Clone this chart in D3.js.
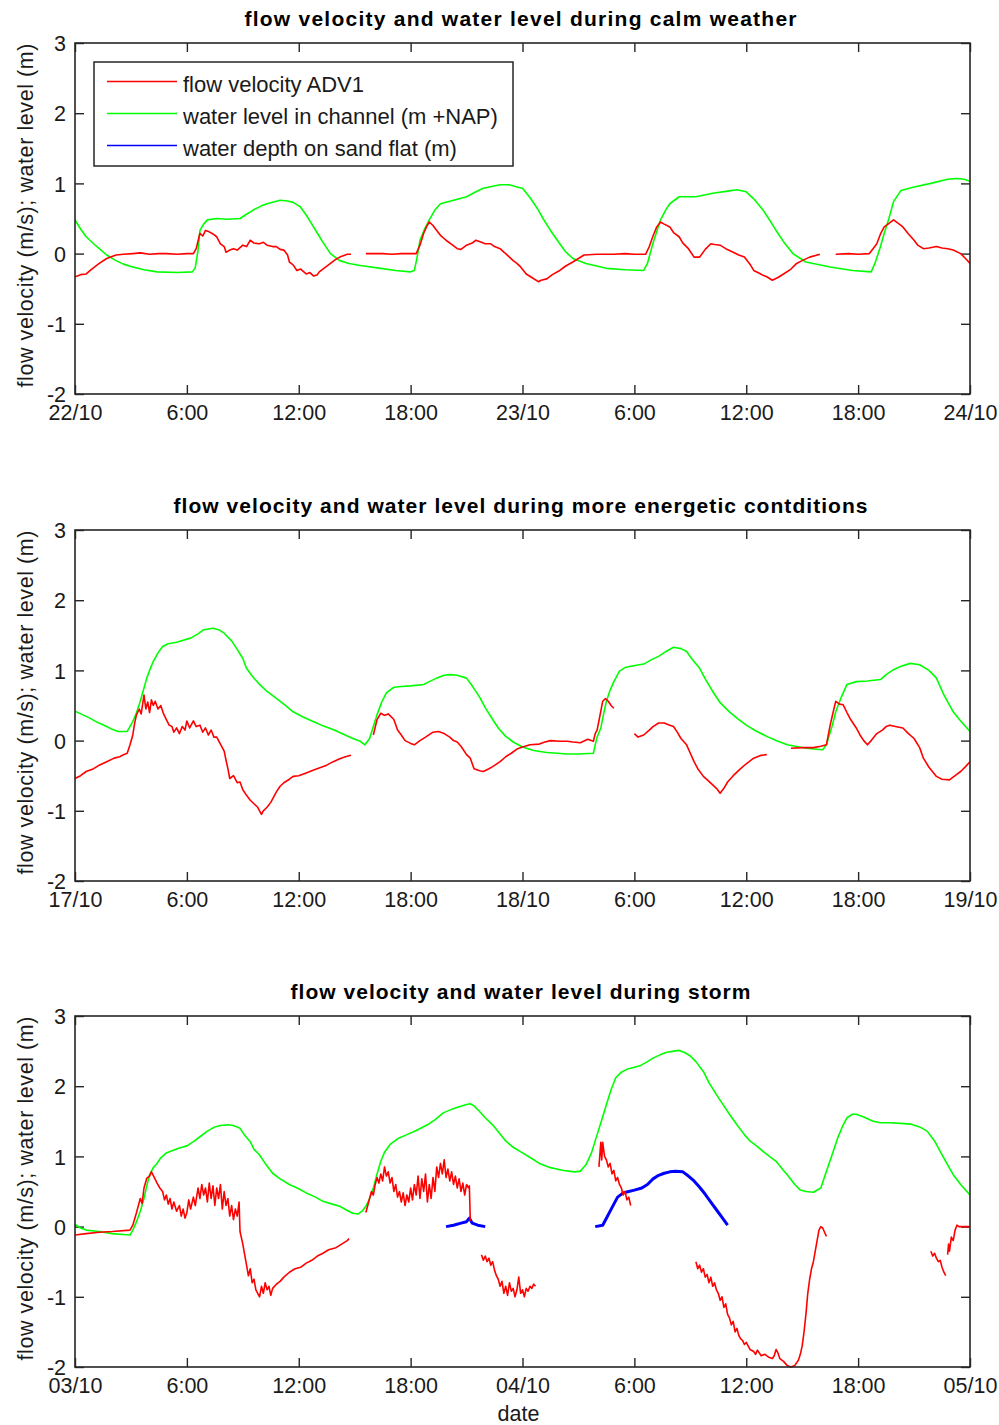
<!DOCTYPE html>
<html><head><meta charset="utf-8">
<script src="https://cdn.jsdelivr.net/npm/d3@7"></script>
<style>
body{margin:0;background:#fff}
svg{display:block}
</style>
</head><body>
<svg id="chart" width="999" height="1425"></svg>
<script>
// ---------------- data ----------------
const panelTitles = [
  "flow velocity and water level during calm weather",
  "flow velocity and water level during more energetic contditions",
  "flow velocity and water level during storm"
];
const panelStartDates = [[2007, 9, 22], [2007, 9, 17], [2007, 9, 3]];
const tickHours = [0, 6, 12, 18, 24, 30, 36, 42, 48];
const yTickValues = [-2, -1, 0, 1, 2, 3];
const seriesNames = ["flow velocity ADV1", "water level in channel (m +NAP)", "water depth on sand flat (m)"];
const yAxisLabel = "flow velocity (m/s); water level (m)";
const xAxisLabel = "date";

// [hours since start, value]; null marks a gap
const calmVelocity = [[0,-0.33],[0.3,-0.3],[0.6,-0.29],[0.9,-0.22],[1.3,-0.14],[1.7,-0.07],[2.2,-0.02],[2.6,-0.01],[3.1,0],[3.5,0.01],[4.0,-0.01],[4.5,0],[4.9,0],[5.5,-0.01],[6.0,0],[6.35,0],[6.5,0.07],[6.7,0.29],[6.85,0.25],[7.0,0.33],[7.2,0.31],[7.4,0.28],[7.6,0.24],[7.8,0.14],[8.0,0.1],[8.1,0.02],[8.3,0.05],[8.5,0.07],[8.7,0.05],[9.0,0.12],[9.2,0.1],[9.4,0.19],[9.6,0.15],[9.9,0.14],[10.1,0.16],[10.3,0.12],[10.6,0.1],[10.8,0.1],[11.0,0.06],[11.2,0.05],[11.4,-0.02],[11.5,-0.12],[11.7,-0.16],[11.9,-0.24],[12.1,-0.22],[12.4,-0.29],[12.6,-0.27],[12.8,-0.32],[13.0,-0.3],[13.1,-0.26],[13.4,-0.2],[13.7,-0.14],[14.0,-0.08],[14.2,-0.05],[14.6,-0.01],[14.8,-0.01],[14.85,null],[15.6,0],[16.5,0],[17.0,-0.01],[17.5,0],[18.3,0],[18.5,0.12],[18.7,0.29],[18.85,0.38],[19.0,0.45],[19.2,0.4],[19.4,0.33],[19.6,0.26],[19.9,0.19],[20.2,0.13],[20.5,0.07],[20.7,0.06],[21.0,0.12],[21.3,0.15],[21.5,0.19],[21.8,0.16],[22.0,0.14],[22.3,0.14],[22.5,0.1],[22.8,0.07],[23.0,0.02],[23.1,0],[23.3,-0.05],[23.5,-0.1],[23.7,-0.14],[23.9,-0.19],[24.2,-0.29],[24.5,-0.34],[24.85,-0.4],[25.0,-0.38],[25.3,-0.36],[25.6,-0.3],[26.0,-0.24],[26.3,-0.18],[26.7,-0.12],[27.0,-0.07],[27.3,-0.02],[28.0,-0.01],[28.9,-0.01],[29.5,0],[30.0,-0.01],[30.6,-0.01],[30.8,0.1],[31.0,0.25],[31.2,0.38],[31.4,0.45],[31.6,0.42],[31.9,0.38],[32.1,0.3],[32.4,0.24],[32.6,0.15],[32.9,0.07],[33.2,-0.05],[33.5,-0.05],[33.8,0.06],[34.1,0.14],[34.3,0.13],[34.6,0.12],[34.9,0.07],[35.3,0.02],[35.6,-0.02],[35.9,-0.05],[36.2,-0.15],[36.4,-0.24],[36.7,-0.28],[36.9,-0.31],[37.1,-0.33],[37.4,-0.38],[37.7,-0.34],[38.0,-0.29],[38.4,-0.22],[38.7,-0.14],[39.0,-0.1],[39.4,-0.05],[39.95,-0.01],[40.0,null],[40.8,-0.01],[41.5,0],[42.0,-0.01],[42.6,0],[42.8,0.07],[43.0,0.14],[43.2,0.28],[43.4,0.38],[43.6,0.42],[43.9,0.48],[44.1,0.44],[44.4,0.38],[44.7,0.28],[45.0,0.19],[45.2,0.12],[45.5,0.07],[45.8,0.08],[46.2,0.1],[46.5,0.08],[46.8,0.07],[47.1,0.05],[47.5,0],[47.8,-0.08],[48,-0.14]];

const calmLevel = [[0,0.48],[0.3,0.35],[0.6,0.24],[1.0,0.14],[1.3,0.07],[1.7,-0.02],[2.2,-0.1],[2.6,-0.15],[3.1,-0.19],[3.7,-0.23],[4.4,-0.26],[5.5,-0.27],[6.3,-0.26],[6.45,-0.2],[6.6,0.05],[6.7,0.33],[6.9,0.42],[7.1,0.48],[7.6,0.5],[8.2,0.49],[8.85,0.5],[9.2,0.56],[9.56,0.62],[10.0,0.68],[10.3,0.71],[10.7,0.74],[11.0,0.76],[11.4,0.75],[11.7,0.73],[12.07,0.67],[12.4,0.55],[12.7,0.42],[13.0,0.29],[13.3,0.16],[13.7,0],[14.2,-0.1],[14.7,-0.14],[15.3,-0.17],[16.4,-0.21],[17.2,-0.24],[18.0,-0.26],[18.2,-0.24],[18.35,-0.05],[18.5,0.19],[18.75,0.35],[19.0,0.48],[19.3,0.62],[19.6,0.71],[20.3,0.76],[21.0,0.81],[21.5,0.88],[21.9,0.93],[22.4,0.96],[22.8,0.98],[23.3,0.98],[23.7,0.95],[24.0,0.93],[24.4,0.8],[24.85,0.62],[25.1,0.5],[25.5,0.33],[26.0,0.14],[26.3,0.03],[26.7,-0.07],[27.4,-0.14],[28.5,-0.21],[29.5,-0.23],[30.5,-0.24],[30.7,-0.14],[31.0,0.15],[31.4,0.48],[31.7,0.63],[31.9,0.71],[32.4,0.81],[33.3,0.81],[34.2,0.86],[35.0,0.89],[35.5,0.91],[36.0,0.88],[36.4,0.78],[36.9,0.62],[37.2,0.5],[37.6,0.33],[38.0,0.17],[38.5,0],[39.2,-0.12],[40.5,-0.19],[41.7,-0.24],[42.7,-0.26],[42.9,-0.14],[43.2,0.1],[43.4,0.29],[43.65,0.5],[43.9,0.74],[44.3,0.9],[45.0,0.95],[45.9,1.0],[46.8,1.06],[47.3,1.07],[47.7,1.06],[48,1.03]];

const energeticVelocity = [[0,-0.54],[0.3,-0.5],[0.6,-0.44],[1.0,-0.4],[1.3,-0.35],[1.7,-0.3],[2.1,-0.25],[2.4,-0.23],[2.6,-0.2],[2.8,-0.18],[2.95,-0.06],[3.1,0.08],[3.2,0.25],[3.3,0.37],[3.45,0.45],[3.55,0.38],[3.7,0.65],[3.8,0.45],[3.9,0.55],[4.0,0.4],[4.1,0.58],[4.2,0.5],[4.3,0.56],[4.45,0.45],[4.6,0.5],[4.75,0.38],[4.9,0.3],[5.05,0.22],[5.2,0.2],[5.3,0.12],[5.45,0.18],[5.6,0.1],[5.75,0.2],[5.9,0.15],[6.0,0.28],[6.15,0.18],[6.35,0.28],[6.5,0.2],[6.7,0.22],[6.85,0.12],[7.0,0.18],[7.15,0.08],[7.3,0.15],[7.45,0.05],[7.6,0.05],[7.8,-0.05],[8.0,-0.15],[8.1,-0.28],[8.2,-0.4],[8.3,-0.54],[8.5,-0.5],[8.7,-0.6],[8.85,-0.59],[9.0,-0.7],[9.2,-0.78],[9.4,-0.85],[9.6,-0.9],[9.8,-0.95],[10.0,-1.05],[10.1,-1.0],[10.3,-0.95],[10.5,-0.88],[10.8,-0.73],[11.0,-0.65],[11.2,-0.6],[11.5,-0.55],[11.7,-0.51],[12.0,-0.5],[12.4,-0.46],[12.8,-0.42],[13.1,-0.39],[13.5,-0.35],[13.85,-0.3],[14.2,-0.26],[14.5,-0.23],[14.8,-0.21],[14.9,null],[16.0,0.08],[16.2,0.3],[16.4,0.39],[16.6,0.36],[16.8,0.38],[17.1,0.3],[17.3,0.15],[17.5,0.08],[17.7,0.0],[18.0,-0.04],[18.2,-0.06],[18.5,0.0],[18.8,0.05],[19.2,0.12],[19.5,0.13],[19.8,0.1],[20.1,0.05],[20.3,0.0],[20.5,-0.02],[20.7,-0.08],[21.0,-0.2],[21.2,-0.25],[21.4,-0.4],[21.7,-0.43],[21.9,-0.44],[22.2,-0.4],[22.4,-0.37],[22.8,-0.3],[23.1,-0.23],[23.4,-0.18],[23.7,-0.12],[24.0,-0.09],[24.4,-0.06],[24.9,-0.05],[25.2,-0.02],[25.5,0.0],[26.0,-0.01],[26.4,-0.01],[26.7,-0.02],[27.1,-0.03],[27.5,0.02],[27.8,-0.01],[27.9,0.1],[28.0,0.15],[28.15,0.35],[28.3,0.56],[28.45,0.6],[28.6,0.56],[28.75,0.5],[28.9,0.46],[29.0,null],[30.0,0.1],[30.2,0.05],[30.5,0.08],[30.8,0.15],[31.0,0.2],[31.3,0.25],[31.6,0.25],[31.9,0.22],[32.1,0.2],[32.3,0.12],[32.5,0.03],[32.8,-0.06],[33.0,-0.18],[33.2,-0.3],[33.4,-0.4],[33.7,-0.51],[34.0,-0.58],[34.2,-0.63],[34.4,-0.68],[34.6,-0.75],[34.8,-0.68],[35.0,-0.59],[35.3,-0.5],[35.7,-0.4],[36.0,-0.33],[36.4,-0.25],[36.8,-0.21],[37.1,-0.2],[37.2,null],[38.4,-0.11],[39.0,-0.1],[39.6,-0.1],[40.0,-0.08],[40.3,-0.06],[40.5,0.22],[40.7,0.45],[40.8,0.56],[41.0,0.52],[41.2,0.51],[41.4,0.4],[41.6,0.3],[41.9,0.18],[42.1,0.08],[42.3,0.0],[42.5,-0.06],[42.7,0.0],[43.0,0.1],[43.3,0.15],[43.5,0.2],[43.7,0.22],[44.0,0.2],[44.4,0.18],[44.7,0.1],[45.0,0.03],[45.3,-0.1],[45.5,-0.25],[45.8,-0.38],[46.2,-0.51],[46.5,-0.55],[46.9,-0.56],[47.2,-0.5],[47.5,-0.44],[47.8,-0.36],[48,-0.3]];

const energeticLevel = [[0,0.42],[0.4,0.37],[0.8,0.32],[1.2,0.26],[1.7,0.2],[2.0,0.16],[2.3,0.13],[2.8,0.13],[3.1,0.27],[3.3,0.4],[3.5,0.56],[3.7,0.75],[3.85,0.89],[4.0,1.0],[4.2,1.13],[4.45,1.25],[4.7,1.34],[5.0,1.38],[5.45,1.4],[5.8,1.43],[6.2,1.46],[6.6,1.52],[6.9,1.58],[7.4,1.6],[7.7,1.58],[8.0,1.53],[8.4,1.42],[8.7,1.3],[9.0,1.17],[9.2,1.03],[9.5,0.92],[9.9,0.8],[10.3,0.7],[10.8,0.6],[11.2,0.52],[11.7,0.41],[12.2,0.34],[12.8,0.27],[13.3,0.21],[13.9,0.15],[14.4,0.09],[14.9,0.03],[15.3,-0.01],[15.55,-0.06],[15.8,0.03],[16.0,0.2],[16.2,0.37],[16.45,0.55],[16.7,0.68],[17.1,0.76],[17.5,0.77],[18.0,0.78],[18.7,0.8],[19.0,0.84],[19.4,0.89],[19.8,0.93],[20.1,0.94],[20.5,0.93],[21.0,0.89],[21.3,0.78],[21.7,0.62],[22.0,0.47],[22.4,0.3],[22.7,0.18],[23.1,0.06],[23.5,-0.02],[24.0,-0.09],[24.6,-0.14],[25.3,-0.17],[26.4,-0.19],[27.0,-0.19],[27.8,-0.18],[27.9,-0.06],[28.0,0.05],[28.2,0.18],[28.35,0.38],[28.5,0.56],[28.7,0.72],[28.9,0.84],[29.2,0.99],[29.5,1.04],[29.8,1.06],[30.5,1.09],[30.9,1.15],[31.3,1.2],[31.7,1.27],[32.1,1.33],[32.5,1.31],[32.8,1.27],[33.1,1.16],[33.5,1.03],[33.8,0.88],[34.2,0.7],[34.6,0.54],[35.1,0.41],[35.5,0.32],[36.0,0.22],[36.5,0.14],[37.1,0.06],[37.6,0.0],[38.2,-0.06],[39.2,-0.11],[40.1,-0.13],[40.3,-0.06],[40.4,0.03],[40.6,0.2],[40.8,0.41],[41.1,0.62],[41.4,0.8],[41.9,0.84],[42.5,0.85],[43.2,0.87],[43.5,0.94],[43.9,1.01],[44.3,1.06],[44.8,1.1],[45.3,1.08],[45.8,1.0],[46.2,0.89],[46.6,0.65],[47.1,0.41],[47.5,0.28],[48,0.13]];

const stormVelocity = [[0,-0.12],[0.6,-0.1],[1.3,-0.08],[2.0,-0.07],[2.95,-0.05],[3.1,0.02],[3.3,0.2],[3.5,0.4],[3.6,0.33],[3.7,0.55],[3.85,0.69],[4.0,0.72],[4.1,0.78],[4.25,0.7],[4.4,0.62],[4.55,0.55],[4.7,0.5],[4.8,0.38],[4.9,0.45],[5.0,0.32],[5.1,0.4],[5.2,0.25],[5.3,0.35],[5.45,0.22],[5.6,0.3],[5.7,0.15],[5.8,0.25],[5.9,0.12],[6.0,0.2],[6.1,0.38],[6.2,0.25],[6.35,0.42],[6.45,0.3],[6.6,0.55],[6.7,0.4],[6.8,0.6],[6.9,0.45],[7.0,0.55],[7.1,0.35],[7.2,0.62],[7.3,0.4],[7.4,0.58],[7.5,0.3],[7.6,0.55],[7.7,0.4],[7.8,0.6],[7.9,0.25],[8.0,0.5],[8.1,0.3],[8.2,0.4],[8.3,0.15],[8.4,0.3],[8.5,0.1],[8.6,0.25],[8.7,0.15],[8.8,0.35],[8.85,-0.07],[9.0,-0.25],[9.1,-0.4],[9.2,-0.55],[9.3,-0.7],[9.4,-0.6],[9.5,-0.8],[9.6,-0.75],[9.7,-0.9],[9.8,-0.95],[9.9,-1.0],[10.0,-0.85],[10.1,-0.95],[10.2,-0.8],[10.3,-0.9],[10.4,-0.85],[10.5,-0.98],[10.6,-0.88],[10.8,-0.82],[11.0,-0.78],[11.2,-0.72],[11.5,-0.65],[11.8,-0.6],[12.1,-0.58],[12.4,-0.52],[12.7,-0.48],[13.0,-0.42],[13.3,-0.38],[13.6,-0.33],[14.0,-0.3],[14.3,-0.25],[14.6,-0.2],[14.7,-0.17],[14.8,null],[15.6,0.2],[15.75,0.35],[15.9,0.5],[16.0,0.45],[16.1,0.6],[16.2,0.7],[16.3,0.62],[16.4,0.75],[16.5,0.65],[16.6,0.85],[16.7,0.72],[16.8,0.78],[16.9,0.62],[17.0,0.7],[17.1,0.5],[17.2,0.6],[17.3,0.42],[17.4,0.5],[17.5,0.35],[17.6,0.48],[17.7,0.3],[17.8,0.45],[17.9,0.35],[18.0,0.55],[18.1,0.38],[18.2,0.6],[18.3,0.45],[18.4,0.72],[18.5,0.4],[18.6,0.68],[18.7,0.5],[18.8,0.75],[18.9,0.35],[19.0,0.6],[19.1,0.4],[19.2,0.7],[19.3,0.5],[19.4,0.85],[19.5,0.7],[19.6,0.9],[19.7,0.75],[19.8,0.95],[19.9,0.7],[20.0,0.82],[20.1,0.65],[20.2,0.78],[20.3,0.6],[20.4,0.72],[20.5,0.55],[20.6,0.68],[20.7,0.5],[20.8,0.62],[20.9,0.45],[21.0,0.6],[21.1,0.55],[21.15,0.58],[21.2,0.08],[21.3,null],[21.8,-0.4],[21.9,-0.48],[22.0,-0.42],[22.1,-0.5],[22.2,-0.45],[22.3,-0.55],[22.4,-0.5],[22.5,-0.62],[22.6,-0.7],[22.7,-0.75],[22.8,-0.85],[22.9,-0.78],[23.0,-0.95],[23.1,-0.85],[23.2,-0.98],[23.3,-0.8],[23.4,-0.92],[23.5,-0.88],[23.6,-1.0],[23.7,-0.9],[23.8,-0.72],[23.9,-0.95],[24.0,-0.9],[24.1,-1.0],[24.2,-0.88],[24.3,-0.92],[24.4,-0.85],[24.5,-0.88],[24.6,-0.82],[24.7,-0.85],[24.8,null],[28.1,0.85],[28.2,1.2],[28.25,0.95],[28.3,1.2],[28.4,1.0],[28.5,0.95],[28.6,0.85],[28.7,0.9],[28.8,0.75],[28.9,0.8],[29.0,0.65],[29.1,0.7],[29.2,0.6],[29.3,0.55],[29.4,0.45],[29.5,0.5],[29.6,0.38],[29.7,0.42],[29.8,0.3],[29.9,null],[33.3,-0.5],[33.4,-0.6],[33.5,-0.55],[33.6,-0.65],[33.7,-0.6],[33.8,-0.72],[33.9,-0.68],[34.0,-0.8],[34.1,-0.72],[34.2,-0.85],[34.3,-0.8],[34.4,-0.9],[34.5,-0.95],[34.6,-1.05],[34.7,-1.0],[34.8,-1.15],[34.9,-1.1],[35.0,-1.25],[35.1,-1.3],[35.2,-1.4],[35.3,-1.35],[35.4,-1.5],[35.5,-1.45],[35.6,-1.55],[35.7,-1.6],[35.8,-1.62],[35.9,-1.68],[36.0,-1.65],[36.2,-1.75],[36.4,-1.78],[36.5,-1.82],[36.6,-1.76],[36.8,-1.84],[37.0,-1.82],[37.2,-1.86],[37.4,-1.88],[37.5,-1.84],[37.6,-1.75],[37.7,-1.8],[37.8,-1.88],[38.0,-1.92],[38.2,-1.98],[38.4,-2.0],[38.6,-1.98],[38.8,-1.9],[38.9,-1.82],[39.0,-1.7],[39.1,-1.5],[39.2,-1.25],[39.3,-0.95],[39.4,-0.75],[39.5,-0.6],[39.6,-0.5],[39.7,-0.35],[39.8,-0.2],[39.9,-0.05],[40.0,0.0],[40.1,-0.02],[40.2,-0.08],[40.3,-0.14],[40.4,null],[45.9,-0.35],[46.0,-0.42],[46.1,-0.38],[46.2,-0.45],[46.3,-0.5],[46.4,-0.48],[46.5,-0.58],[46.6,-0.65],[46.7,-0.7],[46.75,null],[46.8,-0.4],[46.85,-0.25],[46.9,-0.35],[47.0,-0.15],[47.1,-0.2],[47.2,-0.05],[47.3,0.02],[47.4,0.0],[48,0.0]];

const stormLevel = [[0,0.03],[0.3,-0.02],[0.6,-0.05],[1.3,-0.07],[2.0,-0.1],[2.95,-0.12],[3.1,-0.05],[3.3,0.07],[3.5,0.22],[3.7,0.4],[3.85,0.58],[4.0,0.74],[4.2,0.84],[4.4,0.9],[4.6,0.98],[4.9,1.05],[5.2,1.08],[5.6,1.12],[6.0,1.15],[6.35,1.21],[6.7,1.28],[7.1,1.36],[7.5,1.42],[7.8,1.44],[8.2,1.45],[8.5,1.44],[8.85,1.4],[9.1,1.3],[9.4,1.21],[9.6,1.1],[9.9,1.02],[10.2,0.9],[10.6,0.76],[11.0,0.68],[11.5,0.6],[12.0,0.54],[12.4,0.48],[12.9,0.42],[13.3,0.36],[13.8,0.32],[14.2,0.29],[14.6,0.23],[14.9,0.19],[15.2,0.18],[15.4,0.22],[15.6,0.29],[15.8,0.4],[16.0,0.55],[16.2,0.75],[16.4,0.93],[16.6,1.06],[16.9,1.17],[17.3,1.25],[17.8,1.31],[18.3,1.37],[18.9,1.45],[19.3,1.52],[19.75,1.62],[20.2,1.67],[20.65,1.71],[21.0,1.74],[21.2,1.75],[21.4,1.72],[21.7,1.64],[22.0,1.55],[22.4,1.45],[22.7,1.35],[23.1,1.22],[23.5,1.13],[24.0,1.05],[24.5,0.97],[24.9,0.9],[25.5,0.84],[26.2,0.8],[26.8,0.78],[27.1,0.79],[27.4,0.88],[27.7,1.05],[28.0,1.31],[28.25,1.52],[28.5,1.74],[28.75,1.95],[29.0,2.12],[29.3,2.2],[29.6,2.24],[30.0,2.27],[30.3,2.29],[30.7,2.35],[31.0,2.4],[31.4,2.45],[31.7,2.48],[32.1,2.5],[32.4,2.51],[32.7,2.48],[33.0,2.43],[33.3,2.35],[33.7,2.21],[34.0,2.05],[34.4,1.88],[34.8,1.72],[35.1,1.6],[35.5,1.45],[35.9,1.31],[36.2,1.22],[36.6,1.14],[37.0,1.05],[37.6,0.93],[38.0,0.8],[38.2,0.74],[38.6,0.6],[38.9,0.52],[39.2,0.5],[39.6,0.49],[40.0,0.55],[40.3,0.79],[40.6,1.02],[40.9,1.26],[41.2,1.45],[41.4,1.55],[41.7,1.6],[41.9,1.6],[42.3,1.56],[42.8,1.5],[43.2,1.48],[43.7,1.48],[44.3,1.47],[44.8,1.46],[45.3,1.42],[45.7,1.36],[46.1,1.22],[46.4,1.07],[46.8,0.88],[47.1,0.74],[47.5,0.6],[48,0.45]];

const stormDepth = [[19.9,0.0],[20.3,0.02],[20.7,0.05],[21.0,0.07],[21.15,0.12],[21.3,0.05],[21.6,0.02],[22.0,0.0],[22.1,null],[27.9,0.0],[28.3,0.02],[28.5,0.12],[28.7,0.22],[28.9,0.32],[29.1,0.42],[29.4,0.48],[29.7,0.5],[30.0,0.52],[30.4,0.55],[30.7,0.6],[31.0,0.68],[31.3,0.73],[31.6,0.76],[31.9,0.78],[32.2,0.79],[32.6,0.78],[32.9,0.72],[33.2,0.65],[33.5,0.56],[33.8,0.46],[34.1,0.35],[34.4,0.24],[34.7,0.13],[35.0,0.02]];

const panelVelocity = [calmVelocity, energeticVelocity, stormVelocity];
const panelLevel = [calmLevel, energeticLevel, stormLevel];
const panelDepth = [[], [], stormDepth];

// ---------------- layout ----------------
const seriesColors = ["#ff0000", "#00ff00", "#0000ff"];
const plotLeft = 75, plotRight = 970;
const panelTops = [43, 530, 1016];
const plotHeight = 351;
const titleWidths = [552, 694, 460];
const axisColor = "#262626";
const textColor = "#1a1a1a";
const tickFont = "Liberation Sans, Arial, sans-serif";

const svg = d3.select("#chart");

panelTitles.forEach((title, p) => {
  const top = panelTops[p];
  const bottom = top + plotHeight;
  const sd = panelStartDates[p];
  const start = new Date(sd[0], sd[1], sd[2]);
  const toDate = h => new Date(start.getTime() + h * 3600e3);

  const x = d3.scaleTime().domain([toDate(0), toDate(48)]).range([plotLeft, plotRight]);
  const y = d3.scaleLinear().domain([-2, 3]).range([bottom, top]);

  const g = svg.append("g");

  const clipId = "clip" + p;
  g.append("clipPath").attr("id", clipId).append("rect")
    .attr("x", plotLeft).attr("y", top - 1).attr("width", plotRight - plotLeft).attr("height", plotHeight + 2);

  const tickDates = tickHours.map(toDate);
  const fmtDay = d3.timeFormat("%d/%m"), fmtHour = d3.timeFormat("%-H:00");
  const fmt = d => d.getHours() === 0 ? fmtDay(d) : fmtHour(d);

  // axes
  const xb = g.append("g").attr("transform", `translate(0,${bottom})`)
    .call(d3.axisBottom(x).tickValues(tickDates).tickFormat(fmt).tickSizeInner(-9).tickSizeOuter(0).tickPadding(11));
  const xt = g.append("g").attr("transform", `translate(0,${top})`)
    .call(d3.axisTop(x).tickValues(tickDates).tickFormat("").tickSizeInner(-9).tickSizeOuter(0));
  const yl = g.append("g").attr("transform", `translate(${plotLeft},0)`)
    .call(d3.axisLeft(y).tickValues(yTickValues).tickFormat(d => String(d)).tickSizeInner(-9).tickSizeOuter(0).tickPadding(9));
  const yr = g.append("g").attr("transform", `translate(${plotRight},0)`)
    .call(d3.axisRight(y).tickValues(yTickValues).tickFormat("").tickSizeInner(-9).tickSizeOuter(0));
  [xb, xt, yl, yr].forEach(a => {
    a.select(".domain").remove();
    a.selectAll(".tick line").attr("stroke", axisColor).attr("stroke-width", 1.4);
    a.selectAll("text").attr("fill", textColor).style("font-family", tickFont).style("font-size", "21.5px");
  });
  yl.selectAll("text").attr("dy", "0.36em");

  // data lines
  const line = d3.line().defined(d => d[1] !== null).x(d => x(toDate(d[0]))).y(d => y(d[1]));
  const lines = g.append("g").attr("clip-path", `url(#${clipId})`).attr("fill", "none")
    .attr("stroke-linejoin", "round");
  lines.append("path").datum(panelLevel[p]).attr("d", line)
    .attr("stroke", seriesColors[1]).attr("stroke-width", 1.6);
  if (panelDepth[p].length) {
    lines.append("path").datum(panelDepth[p]).attr("d", line)
      .attr("stroke", seriesColors[2]).attr("stroke-width", 3);
  }
  lines.append("path").datum(panelVelocity[p]).attr("d", line)
    .attr("stroke", seriesColors[0]).attr("stroke-width", 1.6);

  // frame
  g.append("rect").attr("x", plotLeft).attr("y", top).attr("width", plotRight - plotLeft).attr("height", plotHeight)
    .attr("fill", "none").attr("stroke", axisColor).attr("stroke-width", 1.6);

  // title
  g.append("text").text(title)
    .attr("x", (plotLeft + plotRight) / 2 - 2).attr("y", top - 17)
    .attr("text-anchor", "middle").attr("fill", "#000")
    .attr("textLength", titleWidths[p]).attr("lengthAdjust", "spacing")
    .style("font-family", tickFont).style("font-weight", "bold").style("font-size", "21px");

  // y label
  g.append("text").text(yAxisLabel)
    .attr("transform", `translate(33,${(top + bottom) / 2 - 3}) rotate(-90)`)
    .attr("text-anchor", "middle").attr("fill", textColor)
    .attr("textLength", 344).attr("lengthAdjust", "spacing")
    .style("font-family", tickFont).style("font-size", "21.5px");

  // legend (first panel)
  if (p === 0) {
    const lg = g.append("g");
    lg.append("rect").attr("x", 94).attr("y", 62).attr("width", 419).attr("height", 104)
      .attr("fill", "#fff").attr("stroke", axisColor).attr("stroke-width", 1.5);
    seriesNames.forEach((name, i) => {
      const ly = 81.5 + i * 32;
      lg.append("line").attr("x1", 107).attr("x2", 177).attr("y1", ly).attr("y2", ly)
        .attr("stroke", seriesColors[i]).attr("stroke-width", 1.6);
      lg.append("text").text(name).attr("x", 183).attr("y", ly + 10)
        .attr("fill", textColor).style("font-family", tickFont).style("font-size", "22px");
    });
  }

  // x label (last panel)
  if (p === panelTitles.length - 1) {
    g.append("text").text(xAxisLabel)
      .attr("x", (plotLeft + plotRight) / 2 - 4).attr("y", 1421)
      .attr("text-anchor", "middle").attr("fill", textColor)
      .style("font-family", tickFont).style("font-size", "21.5px");
  }
});
</script>
</body></html>
